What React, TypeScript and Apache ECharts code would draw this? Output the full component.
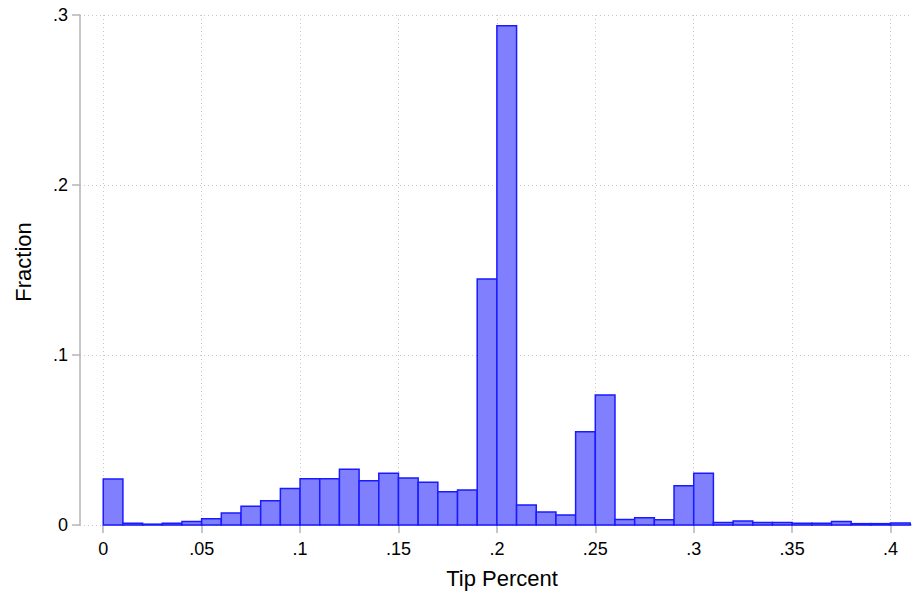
import React, { useEffect, useRef } from "react";
import * as echarts from "echarts";

// Histogram bins (left edges, width 0.01) and their fractions
const binStarts = [
  0.0, 0.01, 0.02, 0.03, 0.04, 0.05, 0.06, 0.07, 0.08, 0.09,
  0.1, 0.11, 0.12, 0.13, 0.14, 0.15, 0.16, 0.17, 0.18, 0.19,
  0.2, 0.21, 0.22, 0.23, 0.24, 0.25, 0.26, 0.27, 0.28, 0.29,
  0.3, 0.31, 0.32, 0.33, 0.34, 0.35, 0.36, 0.37, 0.38, 0.39,
  0.4,
];
const binWidth = 0.01;
const fractions = [
  0.027, 0.001, 0.0005, 0.001, 0.002, 0.0037, 0.007, 0.011, 0.0143, 0.0214,
  0.0272, 0.0272, 0.0328, 0.026, 0.0304, 0.0276, 0.0251, 0.0196, 0.0206, 0.1447,
  0.2937, 0.0118, 0.0076, 0.0059, 0.0549, 0.0765, 0.0033, 0.0043, 0.0031, 0.0231,
  0.0304, 0.0014, 0.0023, 0.0015, 0.0015, 0.001, 0.001, 0.002, 0.0008, 0.0008,
  0.0012,
];
const xTicks = [0, 0.05, 0.1, 0.15, 0.2, 0.25, 0.3, 0.35, 0.4];
const xMin = -0.0118;
const xMax = 0.4109;

const FONT = "'Liberation Sans', Arial, Helvetica, sans-serif";
const AXIS_GRAY = "#b4b4b4";
const GRID_GRAY = "#c8c8c8";

const fmt = (v: number) => {
  if (Math.abs(v) < 1e-9) return "0";
  return parseFloat(v.toFixed(3)).toString().replace(/^0\./, ".");
};

export default function App() {
  const ref = useRef<HTMLDivElement>(null);
  useEffect(() => {
    if (!ref.current) return;
    const chart = echarts.init(ref.current, undefined, { renderer: "svg" });
    const histData = binStarts.map((s, i) => [s, s + binWidth, fractions[i]]);
    chart.setOption({
      animation: false,
      backgroundColor: "#ffffff",
      grid: { left: 80, right: 2, top: 15, bottom: 69, containLabel: false, outerBoundsMode: "none" },
      xAxis: {
        type: "value",
        min: xMin,
        max: xMax,
        name: "Tip Percent",
        nameLocation: "middle",
        nameGap: 42,
        nameTextStyle: { fontFamily: FONT, fontSize: 22, color: "#000", padding: [0, 0, 0, 12] },
        axisLine: { show: false },
        axisTick: {
          show: true,
          customValues: xTicks,
          length: 8,
          lineStyle: { color: AXIS_GRAY, width: 1.5 },
        },
        axisLabel: {
          customValues: xTicks,
          formatter: (v: number) => fmt(v),
          fontFamily: FONT,
          fontSize: 18,
          color: "#000",
          margin: 15,
        },
        splitLine: {
          show: true,
          lineStyle: { color: GRID_GRAY, width: 1, type: [1, 3] },
        },
      },
      yAxis: {
        type: "value",
        min: 0,
        max: 0.3,
        interval: 0.1,
        name: "Fraction",
        nameLocation: "middle",
        nameGap: 46,
        nameTextStyle: { fontFamily: FONT, fontSize: 22, color: "#000", padding: [0, 0, 0, 16] },
        axisLine: { show: true, onZero: false, lineStyle: { color: AXIS_GRAY, width: 1.5 } },
        axisTick: { show: true, length: 8, lineStyle: { color: AXIS_GRAY, width: 1.5 } },
        axisLabel: {
          formatter: (v: number) => fmt(v),
          fontFamily: FONT,
          fontSize: 18,
          color: "#000",
          margin: 12,
        },
        splitLine: {
          show: true,
          lineStyle: { color: GRID_GRAY, width: 1, type: [1, 3] },
        },
      },
      series: [
        {
          type: "line",
          data: [
            [xTicks[0], 0],
            [xMax, 0],
          ],
          symbol: "none",
          silent: true,
          z: 1,
          lineStyle: { color: AXIS_GRAY, width: 1.5 },
        },
        {
          type: "custom",
          z: 3,
          data: histData,
          encode: { x: [0, 1], y: 2 },
          renderItem: (params: any, api: any) => {
            const x0 = api.value(0);
            const x1 = api.value(1);
            const y = api.value(2);
            const p0 = api.coord([x0, y]);
            const p1 = api.coord([x1, 0]);
            return {
              type: "rect",
              shape: { x: p0[0], y: p0[1], width: p1[0] - p0[0], height: p1[1] - p0[1] },
              style: { fill: "#8080ff", stroke: "#1a1aff", lineWidth: 1.5 },
            };
          },
        },
      ],
    });
    return () => chart.dispose();
  }, []);
  return (
    <div
      ref={ref}
      style={{ position: "fixed", left: 0, top: 0, width: 914, height: 594 }}
    />
  );
}
